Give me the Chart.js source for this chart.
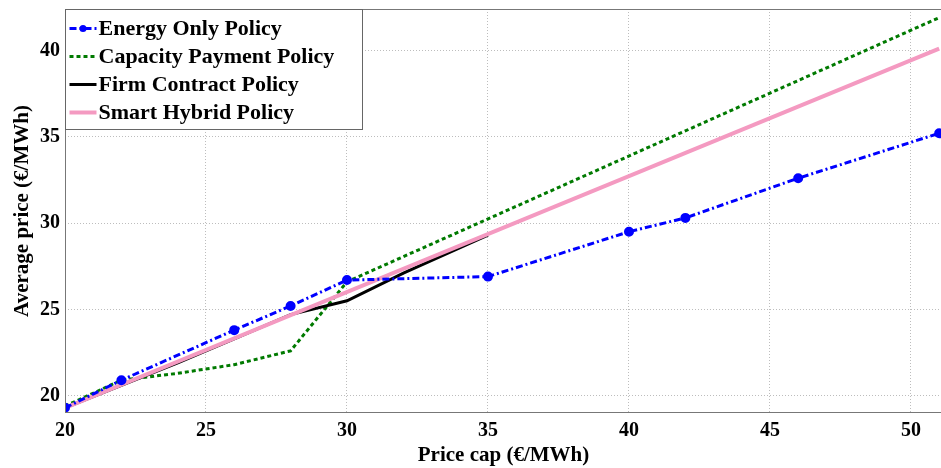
<!DOCTYPE html>
<html>
<head>
<meta charset="utf-8">
<script src="https://cdn.jsdelivr.net/npm/chart.js@4"></script>
<style>
  html, body { margin: 0; padding: 0; background: #fff; overflow: hidden; }
  /* canvas a bit wider than the window: Chart.js keeps ~8px free on the right,
     this pushes the plot frame out to the window edge like the original */
  #wrap { width: 949px; height: 468px; position: relative; }
  canvas { display: block; }
</style>
</head>
<body>
<div id="wrap"><canvas id="priceChart"></canvas></div>
<script>
// Average price vs. price cap, four policies
const energyX = [20, 22, 26, 28, 30, 35, 40, 42, 46, 51];
const energyY = [19.3, 20.9, 23.8, 25.2, 26.7, 26.9, 29.5, 30.3, 32.6, 35.2];

const capacityX = [20, 22, 24, 26, 28, 30, 51];
const capacityY = [19.4, 20.9, 21.3, 21.8, 22.6, 26.6, 41.9];

const firmX = [20, 22, 24, 26, 28, 30, 32, 35];
const firmY = [19.3, 20.6, 21.9, 23.3, 24.7, 25.5, 27.1, 29.3];

const hybridX = [20, 51];
const hybridY = [19.3, 40.1];

const xTicks = [20, 25, 30, 35, 40, 45, 50];
const yTicks = [20, 25, 30, 35, 40];

const seriesNames = [
  "Energy Only Policy",
  "Capacity Payment Policy",
  "Firm Contract Policy",
  "Smart Hybrid Policy",
];

const toPoints = (xs, ys) => xs.map((x, i) => ({ x: x, y: ys[i] }));

const FONT = "'Liberation Serif', 'Times New Roman', serif";

const datasets = [
  {
    label: seriesNames[0],
    data: toPoints(energyX, energyY),
    borderColor: "#0000ff",
    backgroundColor: "#0000ff",
    borderWidth: 3,
    borderDash: [7, 3, 2, 3],
    pointRadius: 3.5,
    pointStyle: "circle",
    order: 1,
  },
  {
    label: seriesNames[1],
    data: toPoints(capacityX, capacityY),
    borderColor: "#007a00",
    borderWidth: 3,
    borderDash: [4, 3],
    pointRadius: 0,
    order: 4,
  },
  {
    label: seriesNames[2],
    data: toPoints(firmX, firmY),
    borderColor: "#000000",
    borderWidth: 3,
    pointRadius: 0,
    order: 3,
  },
  {
    label: seriesNames[3],
    data: toPoints(hybridX, hybridY),
    borderColor: "#f49ac1",
    borderWidth: 4,
    pointRadius: 0,
    order: 2,
  },
];

// box around plot + legend inside top-left corner
const frameAndLegend = {
  id: "frameAndLegend",
  afterDraw(chart) {
    const { ctx, chartArea } = chart;
    ctx.save();
    ctx.strokeStyle = "#777";
    ctx.lineWidth = 1;
    ctx.strokeRect(chartArea.left + 0.5, chartArea.top + 0.5,
      chartArea.right - chartArea.left - 1, chartArea.bottom - chartArea.top - 1);

    const bx = chartArea.left + 0.5, by = chartArea.top + 0.5;
    const bw = 297, bh = 120;
    ctx.fillStyle = "#fff";
    ctx.fillRect(bx, by, bw, bh);
    ctx.strokeStyle = "#666";
    ctx.strokeRect(bx, by, bw, bh);

    ctx.font = "bold 22px " + FONT;
    ctx.textBaseline = "middle";
    datasets.forEach((ds, i) => {
      const cy = by + 19 + i * 28;
      ctx.strokeStyle = ds.borderColor;
      ctx.lineWidth = ds.borderWidth;
      ctx.setLineDash(ds.borderDash || []);
      ctx.beginPath();
      ctx.moveTo(bx + 4, cy);
      ctx.lineTo(bx + 31, cy);
      ctx.stroke();
      ctx.setLineDash([]);
      if (ds.pointRadius) {
        ctx.fillStyle = ds.borderColor;
        ctx.beginPath();
        ctx.arc(bx + 17.5, cy, ds.pointRadius, 0, Math.PI * 2);
        ctx.fill();
      }
      ctx.fillStyle = "#000";
      ctx.fillText(ds.label, bx + 33, cy + 1);
    });
    ctx.restore();
  },
};

new Chart(document.getElementById("priceChart").getContext("2d"), {
  type: "line",
  data: { datasets: datasets },
  plugins: [frameAndLegend],
  options: {
    responsive: true,
    maintainAspectRatio: false,
    animation: false,
    layout: { padding: { top: 9, right: 1, left: 0, bottom: 0 } },
    plugins: {
      legend: { display: false },
      tooltip: { enabled: false },
    },
    scales: {
      x: {
        type: "linear",
        min: 20,
        max: 51.1,
        afterBuildTicks: (axis) => { axis.ticks = xTicks.map((v) => ({ value: v })); },
        afterFit: (axis) => {
          axis.height = 55;
          axis.paddingRight = 0;
          axis.paddingLeft = 0;
        },
        grid: { color: "#bdbdbd", drawTicks: false },
        border: { display: false, dash: [1, 2] },
        ticks: { color: "#000", padding: 6, font: { family: FONT, size: 20, weight: "bold" } },
        title: {
          display: true,
          text: "Price cap (€/MWh)",
          color: "#000",
          padding: { top: 0, bottom: 0 },
          font: { family: FONT, size: 21, weight: "bold" },
        },
      },
      y: {
        type: "linear",
        min: 19,
        max: 42.4,
        afterBuildTicks: (axis) => { axis.ticks = yTicks.map((v) => ({ value: v })); },
        afterFit: (axis) => {
          axis.width = 65;
          axis.paddingTop = 0;
          axis.paddingBottom = 0;
        },
        grid: { color: "#bdbdbd", drawTicks: false },
        border: { display: false, dash: [1, 2] },
        ticks: { color: "#000", padding: 5, font: { family: FONT, size: 20, weight: "bold" } },
        title: {
          display: true,
          text: "Average price (€/MWh)",
          color: "#000",
          padding: { top: 10, bottom: 2 },
          font: { family: FONT, size: 21, weight: "bold" },
        },
      },
    },
  },
});
</script>
</body>
</html>
